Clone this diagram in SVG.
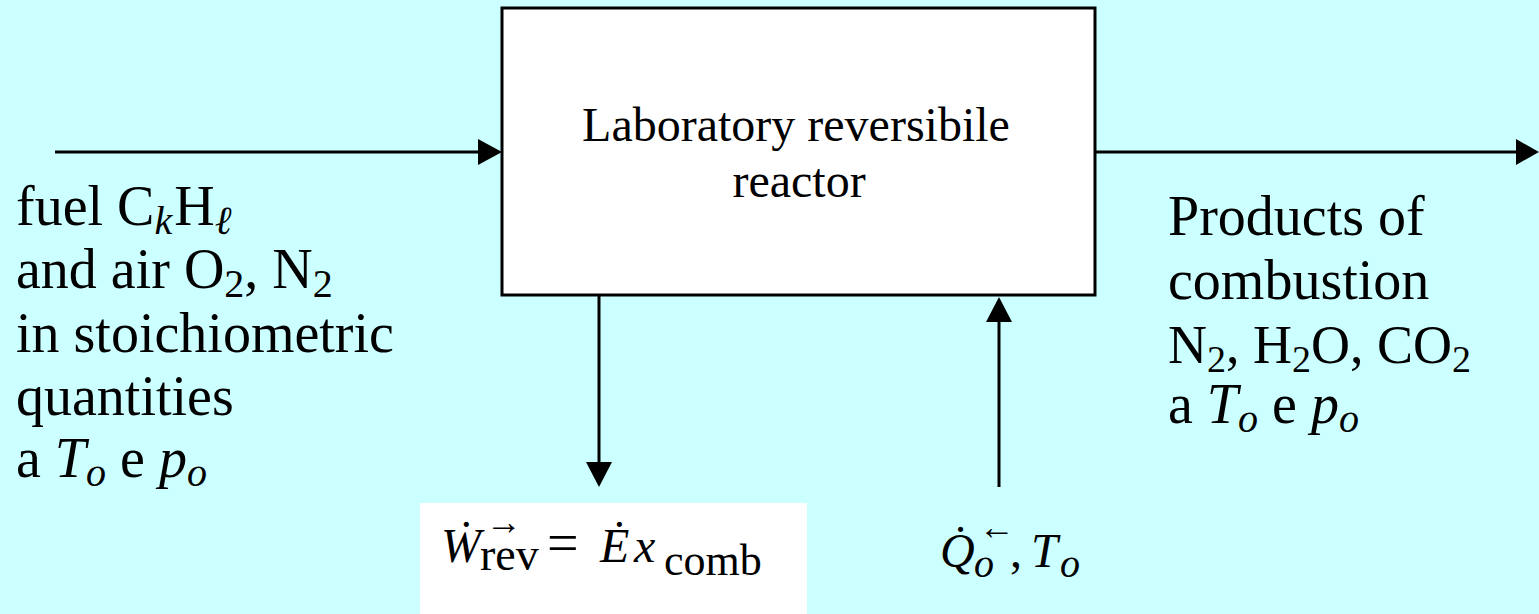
<svg xmlns="http://www.w3.org/2000/svg" width="1539" height="614" viewBox="0 0 1539 614">
<defs>
<style>
.bg{fill:#CCFFFF}
.box{fill:#FFFFFF;stroke:#000000;stroke-width:3}
.ln{stroke:#000000;stroke-width:3;fill:none}
.ah{fill:#000000}
.t{font-family:"Liberation Serif","Times New Roman",serif;fill:#000000}
.bt{font-size:48px}
.lt{font-size:56px}
.sb{font-size:40px}
.m{font-size:48px}
.it{font-style:italic}
.ar{font-size:36px}
</style>
</defs>
<rect class="bg" x="0" y="0" width="1539" height="614"/>
<g id="connectors">
<line class="ln" x1="55" y1="152" x2="480" y2="152"/>
<polygon class="ah" points="502,152 478,139 478,165"/>
<line class="ln" x1="1095" y1="152" x2="1520" y2="152"/>
<polygon class="ah" points="1539,152 1516,139 1516,165"/>
<line class="ln" x1="599" y1="295" x2="599" y2="465"/>
<polygon class="ah" points="599,487 586,462 612,462"/>
<line class="ln" x1="999" y1="487" x2="999" y2="318"/>
<polygon class="ah" points="999,297 986,322 1012,322"/>
</g>
<g id="reactor">
<rect class="box" x="502" y="8" width="593" height="287"/>
<text class="t bt" x="796" y="141" text-anchor="middle">Laboratory reversibile</text>
<text class="t bt" x="799" y="197" text-anchor="middle">reactor</text>
</g>
<g id="inlet-label">
<text class="t lt" x="16" y="225">fuel C<tspan class="sb it" dy="9">k</tspan><tspan dx="2" dy="-9">H</tspan><tspan class="sb it" dy="9">ℓ</tspan></text>
<text class="t lt" x="16" y="288">and air O<tspan class="sb" dy="9">2</tspan><tspan dy="-9">, N</tspan><tspan class="sb" dy="9">2</tspan></text>
<text class="t lt" x="16" y="352">in stoichiometric</text>
<text class="t lt" x="16" y="415">quantities</text>
<text class="t lt" x="16" y="477">a <tspan class="it">T</tspan><tspan class="sb it" dy="9">o</tspan><tspan dy="-9"> e </tspan><tspan class="it">p</tspan><tspan class="sb it" dy="9">o</tspan></text>
</g>
<g id="outlet-label">
<text class="t lt" x="1168" y="235">Products of</text>
<text class="t lt" x="1168" y="299">combustion</text>
<text class="t" font-size="54" x="1168" y="363">N<tspan font-size="38" dy="9">2</tspan><tspan dy="-9">, H</tspan><tspan font-size="38" dy="9">2</tspan><tspan dy="-9">O, CO</tspan><tspan font-size="38" dy="9">2</tspan></text>
<text class="t lt" x="1168" y="423">a <tspan class="it">T</tspan><tspan class="sb it" dy="9">o</tspan><tspan dy="-9"> e </tspan><tspan class="it">p</tspan><tspan class="sb it" dy="9">o</tspan></text>
</g>
<g id="work-output">
<rect x="420" y="503" width="387" height="111" fill="#FFFFFF"/>
<text class="t m" y="562"><tspan x="441" class="it">Ẇ</tspan><tspan x="480" y="570" font-size="46">rev</tspan><tspan x="547" y="562" font-size="56">=</tspan><tspan x="600" class="it">Ė</tspan><tspan x="634" class="it">x</tspan><tspan x="664" y="575" font-size="44">comb</tspan></text>
<text class="t ar" x="486" y="534">→</text>
</g>
<g id="heat-input">
<text class="t m" y="567"><tspan x="940" class="it">Q̇</tspan><tspan x="974" y="577" class="sb it">o</tspan><tspan x="1010" y="567">,</tspan><tspan x="1031" class="it">T</tspan><tspan x="1060" y="577" class="sb it">o</tspan></text>
<text class="t ar" x="979" y="539">←</text>
</g>
</svg>
